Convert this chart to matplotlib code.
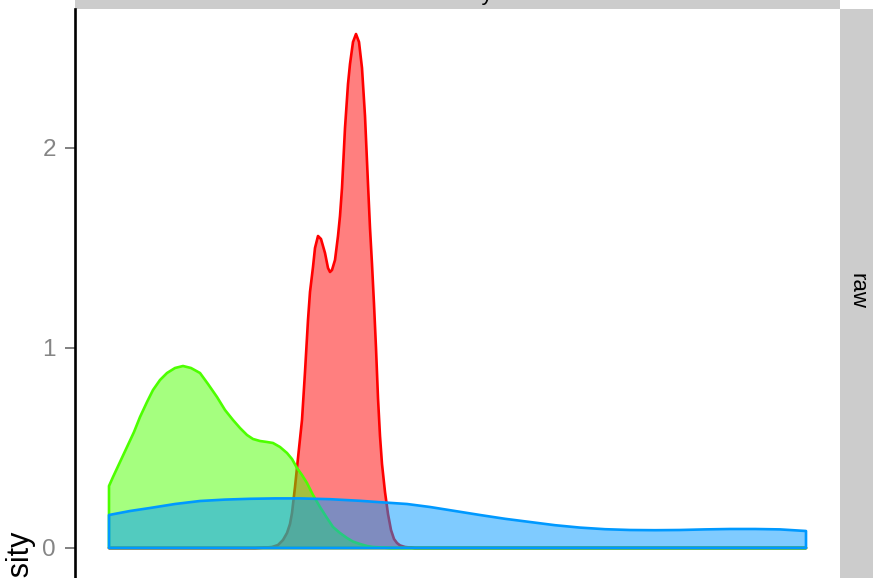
import numpy as np
import matplotlib
matplotlib.use("Agg")
import matplotlib.pyplot as plt
from matplotlib.patches import Rectangle
from matplotlib.colors import to_rgba

plt.rcParams['font.family'] = ['Liberation Sans', 'DejaVu Sans']

# density estimates per group (evaluated on the full data range)
red_x = [0, .73, .78, .815, .845, .87, .89, .905, .915, .93,
         .945, .965, .98, .995, 1.005, 1.02, 1.03, 1.045, 1.06, 1.08,
         1.095, 1.105, 1.115, 1.13, 1.145, 1.155, 1.165, 1.18, 1.195, 1.205,
         1.22, 1.235, 1.25, 1.265, 1.28, 1.295, 1.305, 1.315, 1.325, 1.335,
         1.345, 1.355, 1.365, 1.38, 1.395, 1.41, 1.425, 1.44, 1.455, 1.48,
         1.53, 3.485]
red_y = [0, 0, .002, .005, .015, .04, .075, .12, .175, .305,
         .45, .64, .88, 1.14, 1.28, 1.405, 1.50, 1.56, 1.545, 1.475,
         1.40, 1.38, 1.39, 1.44, 1.56, 1.66, 1.80, 2.10, 2.32, 2.42,
         2.53, 2.57, 2.53, 2.40, 2.16, 1.82, 1.60, 1.42, 1.22, 1.00,
         .75, .56, .42, .28, .17, .09, .045, .025, .013, .005,
         0, 0]

green_x = [0, .02, .055, .09, .125, .155, .19, .22, .255, .29,
           .33, .37, .41, .455, .495, .54, .58, .62, .655, .69,
           .72, .755, .79, .82, .855, .89, .915, .94, .965, .99,
           1.02, 1.055, 1.09, 1.12, 1.155, 1.19, 1.22, 1.255, 1.29, 1.32,
           1.405, 3.485]
green_y = [.31, .355, .43, .505, .58, .655, .73, .79, .84, .875,
           .90, .91, .90, .875, .82, .755, .69, .64, .60, .565,
           .545, .535, .53, .525, .505, .475, .445, .40, .365, .325,
           .265, .205, .15, .105, .075, .05, .032, .02, .01, .005,
           0, 0]

blue_x = [0, .105, .205, .33, .455, .58, .705, .83, .955, 1.105,
          1.255, 1.355, 1.49, 1.605, 1.73, 1.855, 1.98, 2.105, 2.23, 2.355,
          2.48, 2.605, 2.73, 2.855, 2.98, 3.105, 3.23, 3.355, 3.485]
blue_y = [.165, .185, .20, .22, .235, .242, .246, .248, .248, .244,
          .236, .229, .22, .205, .185, .165, .146, .13, .114, .102,
          .094, .09, .089, .09, .093, .095, .095, .093, .085]

groups = [(red_x, red_y, '#FF0000'),
          (green_x, green_y, '#4DFF00'),
          (blue_x, blue_y, '#0099FF')]

W, H = 873, 578
fig = plt.figure(figsize=(W / 100, H / 100), dpi=100)

# panel in pixel units: x 75..840, y 9..582 (runs past the bottom edge)
ax = fig.add_axes([75 / W, (H - 582) / H, (840 - 75) / W, (582 - 9) / H])
ax.set_facecolor('white')

for xs, ys, col in groups:
    px = np.r_[xs[0], xs, xs[-1]]
    py = np.r_[0, ys, 0]
    ax.fill(px, py, facecolor=to_rgba(col, 0.5), edgecolor=col,
            linewidth=1.9, joinstyle='round')

ax.set_xlim(-0.17, 3.655)
ax.set_ylim(-0.17, 2.695)

ax.set_xticks([])
ax.set_yticks([0, 1, 2])
ax.set_yticklabels(['0', '1', '2'])
ax.tick_params(axis='y', direction='out', length=7.2, width=1.4,
               color='#808080', labelcolor='#858585', labelsize=17.5, pad=6.5)
for side in ['top', 'right', 'bottom']:
    ax.spines[side].set_visible(False)
ax.spines['left'].set_linewidth(1.9)
ax.spines['left'].set_color('black')

# facet strips
fig.add_artist(Rectangle((75 / W, 1 - 9 / H), (840 - 75) / W, 40 / H,
                         transform=fig.transFigure, facecolor='#CCCCCC',
                         edgecolor='none', zorder=0))
fig.add_artist(Rectangle((840 / W, -20 / H), 60 / W, (H + 20 - 9) / H,
                         transform=fig.transFigure, facecolor='#CCCCCC',
                         edgecolor='none', zorder=0))
fig.text(857 / W, 1 - 291 / H, 'raw', rotation=-90, ha='center', va='center',
         fontsize=16, color='black')
fig.text(457 / W, 1.0, 'density', ha='center', va='baseline',
         fontsize=16, color='black')

fig.text(20 / W, 1 - 530 / H, 'density', rotation=90, ha='center', va='top',
         fontsize=22, color='black')

fig.savefig('out.png', dpi=100)
